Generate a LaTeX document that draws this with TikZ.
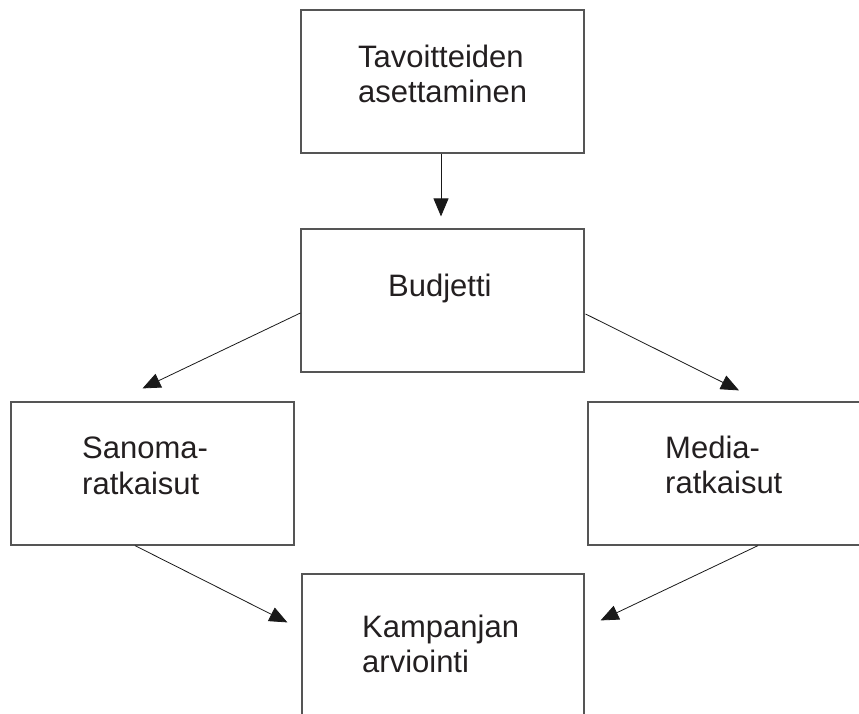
\documentclass[tikz,border=0pt]{standalone}
\usepackage{fontspec}
\setmainfont{Liberation Sans}
\usetikzlibrary{arrows.meta}
\definecolor{boxgray}{HTML}{555555}
\definecolor{textblack}{HTML}{231F20}
\begin{document}
\begin{tikzpicture}[x=1pt,y=-1pt,
  box/.style={draw=boxgray, line width=1.2pt, minimum width=283pt, minimum height=143pt, inner sep=0pt},
  boxtext/.style={anchor=base west, align=left, inner sep=0pt, font=\fontsize{31}{35.5}\selectfont, text=textblack},
  arr/.style={draw=black!90, line width=0.8pt, -{Triangle[length=18pt,width=15pt]}}]
\useasboundingbox (0,0) rectangle (859,713);
\clip (0,0) rectangle (859,713);
% boxes
\node[box] (top) at (442.5,81.5) {};
\node[box] (bud) at (442.5,300.5) {};
\node[box] (san) at (152.5,473.5) {};
\node[box] (med) at (729.5,473.5) {};
\node[box, minimum width=282pt, minimum height=150pt] (kam) at (443,649) {};
% texts (base = last line's baseline)
\node[boxtext] (toptxt) at (358,102.5) {Tavoitteiden\\asettaminen};
\node[boxtext] (budtxt) at (388,296) {Budjetti};
\node[boxtext] (santxt) at (82,494) {Sanoma-\\ratkaisut};
\node[boxtext] (medtxt) at (665,493.5) {Media-\\ratkaisut};
\node[boxtext] (kamtxt) at (362,672.5) {Kampanjan\\arviointi};
% connectors
\draw[arr] ([xshift=-1.5pt]top.south) -- ([xshift=-1.5pt,yshift=12pt]bud.north);
\draw[arr] ([yshift=-12.5pt]bud.west) -- ([xshift=-10pt,yshift=13pt]san.north);
\draw[arr] ([yshift=-13.5pt,xshift=1pt]bud.east) -- ([xshift=9.5pt,yshift=11pt]med.north);
\draw[arr] ([xshift=-17.5pt]san.south) -- ([xshift=-14pt,yshift=-49pt]kam.north west);
\draw[arr] ([xshift=28.5pt]med.south) -- ([xshift=16pt,yshift=-47pt]kam.north east);
\end{tikzpicture}
\end{document}
